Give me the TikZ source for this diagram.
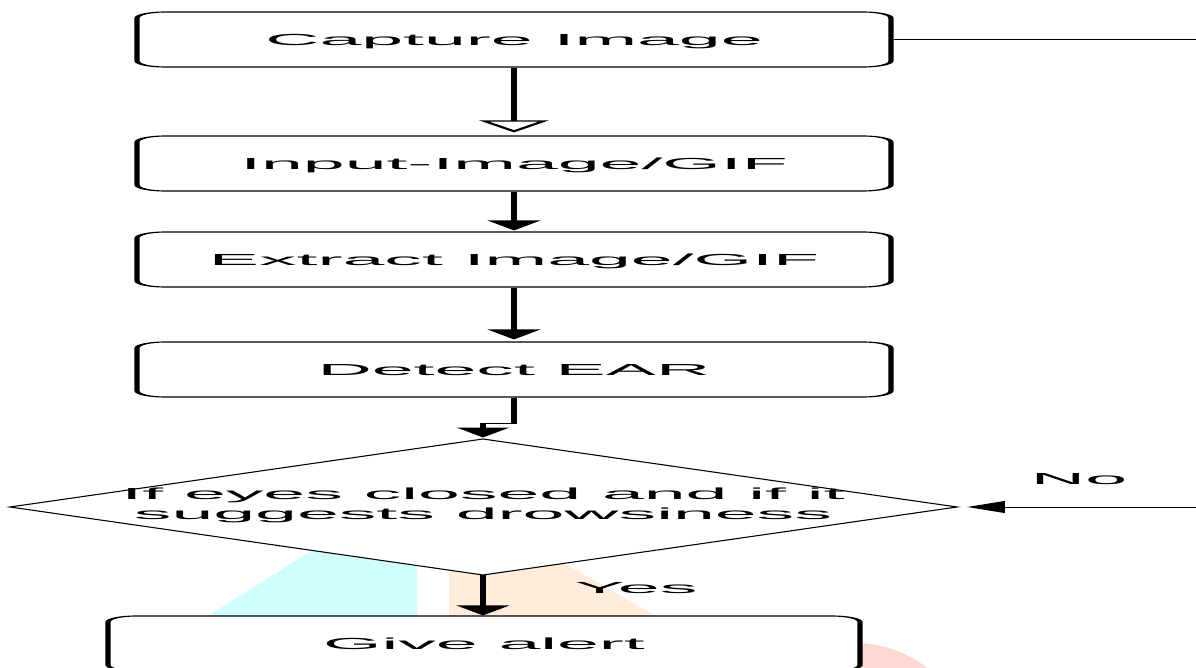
\documentclass[tikz,border=0pt]{standalone}
\usepackage{fontspec}
\setmainfont{Liberation Sans}
\usetikzlibrary{arrows.meta}
\definecolor{wmcyan}{RGB}{208,254,254}
\definecolor{wmpeach}{RGB}{255,236,218}
\definecolor{wmpink}{RGB}{255,216,210}
\tikzset{
  stepbox/.style={draw, line width=1.1pt, rounded corners=6pt, fill=white,
    minimum width=160.4pt, minimum height=55pt, inner sep=0pt,
    text height=11.5pt, text depth=0pt},
  conn/.style={line width=1.2pt},
  filledtip/.style={-{Triangle[width=11pt,length=10pt]}},
  opentip/.style={-{Triangle[open,fill=white,width=14.5pt,length=12pt]}},
  lbl/.style={inner sep=0pt}
}
\begin{document}
\begin{tikzpicture}[x=1pt,y=-1pt,font=\fontsize{16}{20.5}\selectfont]
\useasboundingbox (0,0) rectangle (1196,668);
\fill[white] (0,0) rectangle (1196,668);
% faint background marks
\fill[wmcyan] (154,650) -- (316,548) -- (417,548) -- (417,650) -- cycle;
\fill[wmpeach] (449,530) -- (506,530) -- (698,640) -- (449,640) -- cycle;
\fill[wmpink] (855,760) circle[radius=117pt];
\begin{scope}[transform canvas={xscale=4.7}, x=0.212766pt]
  \node[stepbox] (cap) at (514,39.5) {Capture Image};
  \node[stepbox] (inp) at (514,163.5) {Input-Image/GIF};
  \node[stepbox] (ext) at (514,259.5) {Extract Image/GIF};
  \node[stepbox] (det) at (514,369.5) {Detect EAR};
  \node[stepbox, minimum width=160pt] (alert) at (484,643.5) {Give alert};
  % decision
  \coordinate (dtop) at (483,439);
  \coordinate (dright) at (957,507);
  \coordinate (dbot) at (483,575);
  \coordinate (dleft) at (10,507);
  \draw[fill=white, line width=0.9pt] (dleft) -- (dtop) -- (dright) -- (dbot) -- cycle;
  \node[lbl, align=center] (dtext) at (483,505.5) {If eyes closed and if it\\suggests drowsiness};
  % connectors
  \draw[conn, opentip, shorten >=3pt] (cap) -- (inp);
  \draw[conn, filledtip, shorten >=1pt] (inp) -- (ext);
  \draw[conn, filledtip, shorten >=2pt] (ext) -- (det);
  \draw[conn, filledtip, shorten >=1.5pt] (det.south) -- ++(0,26) -| (dtop);
  \draw[conn, filledtip] (dbot) -- (dbot |- alert.north);
  \coordinate (noend) at (1200,507);
  \draw[line width=0.9pt, -{Triangle[width=12pt,length=8pt]}, shorten >=2.2pt] (noend) -- (dright);
  \coordinate (topend) at (1200,39.5);
  \draw[line width=1.7pt] (cap.east) -- (topend);
  % labels
  \node[lbl] (yes) at (636,588) {Yes};
  \node[lbl] (no) at (1079,479) {No};
\end{scope}
\end{tikzpicture}
\end{document}
